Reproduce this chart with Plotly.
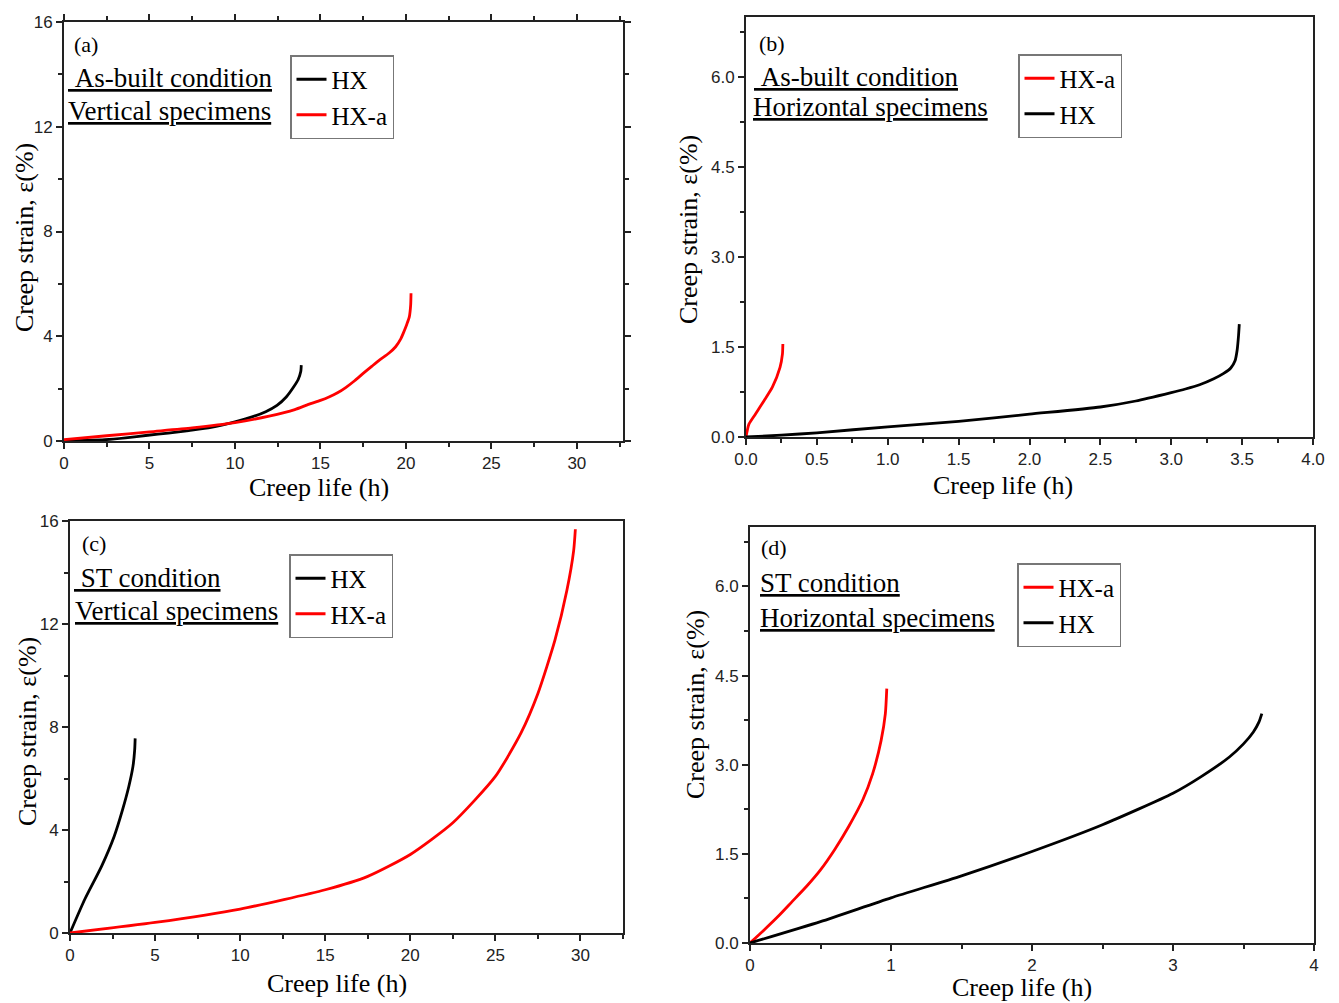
import plotly.graph_objects as go

# ---------------- data ----------------
# (a) As-built, vertical
a_hx_x = [0, 1.2, 2.4, 3.6, 4.9, 6.1, 7.3, 8.6, 10.0, 11.0, 11.8, 12.46, 13.0, 13.44, 13.7, 13.85, 13.88]
a_hx_y = [0, 0.02, 0.05, 0.12, 0.22, 0.3, 0.4, 0.52, 0.73, 0.92, 1.12, 1.36, 1.68, 2.07, 2.35, 2.65, 2.9]
a_hxa_x = [0, 2.5, 5, 7.5, 10, 12, 13.5, 14.3, 15.0, 15.5, 16.0, 16.5, 17.0, 17.5, 18.0, 18.45, 19.0, 19.4, 19.7, 19.9, 20.05, 20.2, 20.28, 20.3]
a_hxa_y = [0.05, 0.2, 0.35, 0.5, 0.7, 0.95, 1.2, 1.4, 1.55, 1.68, 1.84, 2.05, 2.3, 2.58, 2.85, 3.09, 3.35, 3.6, 3.9, 4.2, 4.45, 4.74, 5.2, 5.64]

# (b) As-built, horizontal
b_hxa_x = [0, 0.02, 0.066, 0.126, 0.186, 0.24, 0.257, 0.26]
b_hxa_y = [0, 0.21, 0.38, 0.6, 0.83, 1.16, 1.38, 1.55]
b_hx_x = [0, 0.25, 0.5, 1.0, 1.5, 2.0, 2.5, 2.75, 3.0, 3.1, 3.2, 3.3, 3.37, 3.42, 3.45, 3.465, 3.475, 3.48]
b_hx_y = [0, 0.03, 0.07, 0.17, 0.26, 0.38, 0.5, 0.6, 0.74, 0.8, 0.87, 0.97, 1.06, 1.15, 1.27, 1.45, 1.7, 1.88]

# (c) ST, vertical
c_hx_x = [0, 0.87, 1.86, 2.6, 3.09, 3.46, 3.7, 3.8, 3.83]
c_hx_y = [0, 1.31, 2.6, 3.76, 4.79, 5.7, 6.47, 7.1, 7.56]
c_hxa_x = [0, 5, 10, 15, 17.5, 20, 22.5, 25, 26.5, 27.5, 28.5, 29.2, 29.6, 29.7]
c_hxa_y = [0, 0.41, 0.93, 1.68, 2.2, 3.05, 4.28, 6.08, 7.76, 9.3, 11.37, 13.3, 14.85, 15.68]

# (d) ST, horizontal
d_hxa_x = [0, 0.1, 0.2, 0.3, 0.4, 0.5, 0.6, 0.7, 0.8, 0.87, 0.93, 0.96, 0.97]
d_hxa_y = [0, 0.22, 0.45, 0.7, 0.95, 1.23, 1.57, 1.96, 2.41, 2.85, 3.41, 3.86, 4.28]
d_hx_x = [0, 0.5, 1.0, 1.5, 2.0, 2.5, 3.0, 3.2, 3.4, 3.5, 3.57, 3.61, 3.63]
d_hx_y = [0, 0.36, 0.76, 1.13, 1.54, 1.99, 2.52, 2.8, 3.13, 3.35, 3.55, 3.72, 3.86]

x_title = "Creep life (h)"
y_title = "Creep strain, ε(%)"
panel_labels = ["(a)", "(b)", "(c)", "(d)"]
cond_lines = [
    ["\u00a0As-built condition", "Vertical specimens"],
    ["\u00a0As-built condition", "Horizontal specimens"],
    ["\u00a0ST condition", "Vertical specimens"],
    ["ST condition", "Horizontal specimens"],
]

SERIF = "Liberation Serif"
SANS = "Liberation Sans"
W, H = 1339, 1003

fig = go.Figure()

def add(x, y, color, name, xa, ya, legend):
    fig.add_trace(go.Scatter(x=x, y=y, mode="lines", name=name,
                             line=dict(color=color, width=2.8, shape="spline", smoothing=0.6),
                             xaxis=xa, yaxis=ya, legend=legend))

add(a_hx_x, a_hx_y, "black", "HX", "x", "y", "legend")
add(a_hxa_x, a_hxa_y, "red", "HX-a", "x", "y", "legend")
add(b_hxa_x, b_hxa_y, "red", "HX-a", "x2", "y2", "legend2")
add(b_hx_x, b_hx_y, "black", "HX", "x2", "y2", "legend2")
add(c_hx_x, c_hx_y, "black", "HX", "x3", "y3", "legend3")
add(c_hxa_x, c_hxa_y, "red", "HX-a", "x3", "y3", "legend3")
add(d_hxa_x, d_hxa_y, "red", "HX-a", "x4", "y4", "legend4")
add(d_hx_x, d_hx_y, "black", "HX", "x4", "y4", "legend4")

def px_x(v):
    return v / W

def px_y(v):
    return 1 - v / H

# panel geometry in pixels: left, right, top, bottom
geom = [(64, 623, 22, 441), (746, 1313, 17, 437), (70, 623, 521, 933), (750, 1314, 527, 943)]

tickfont = dict(family=SANS, size=17, color="#222")
titlefont = dict(family=SERIF, size=26, color="black")
minor_style = dict(ticks="outside", ticklen=4, tickwidth=1.5, tickcolor="#222")

def axis_common(mirror):
    return dict(showline=True, linewidth=2, linecolor="#222", mirror=mirror,
                ticks="outside", ticklen=6, tickwidth=1.5, tickcolor="#222",
                showgrid=False, zeroline=False, tickfont=tickfont, fixedrange=True,
                automargin=False)

xcfg = [
    dict(range=[0, 32.7], tick0=0, dtick=5, minor=dict(dtick=2.5, **minor_style)),
    dict(range=[0, 4.0], tick0=0, dtick=0.5, tickformat=".1f", minor=dict(dtick=0.25, **minor_style)),
    dict(range=[0, 32.5], tick0=0, dtick=5, minor=dict(dtick=2.5, **minor_style)),
    dict(range=[0, 4.0], tick0=0, dtick=1, minor=dict(dtick=0.5, **minor_style)),
]
ycfg = [
    dict(range=[0, 16], tick0=0, dtick=4, minor=dict(dtick=2, **minor_style)),
    dict(range=[0, 7.0], tick0=0, dtick=1.5, tickformat=".1f", minor=dict(dtick=0.75, **minor_style)),
    dict(range=[0, 16], tick0=0, dtick=4, minor=dict(dtick=2, **minor_style)),
    dict(range=[0, 7.0], tick0=0, dtick=1.5, tickformat=".1f", minor=dict(dtick=0.75, **minor_style)),
]
mirrors = ["allticks", True, True, True]

layout = {}
for i, (l, r, t, b) in enumerate(geom):
    sfx = "" if i == 0 else str(i + 1)
    xa = axis_common(mirrors[i])
    xa.update(xcfg[i])
    xa.update(domain=[px_x(l), px_x(r)], anchor="y" + sfx)
    ya = axis_common(mirrors[i])
    ya.update(ycfg[i])
    ya.update(domain=[px_y(b), px_y(t)], anchor="x" + sfx)
    layout["xaxis" + sfx] = xa
    layout["yaxis" + sfx] = ya

legend_pos = [(290, 55), (1018, 54), (289, 554), (1017, 563)]
for i, (lx, ly) in enumerate(legend_pos):
    key = "legend" if i == 0 else "legend" + str(i + 1)
    layout[key] = dict(x=px_x(lx), y=px_y(ly), xanchor="left", yanchor="top",
                       bgcolor="white", bordercolor="#777", borderwidth=1.5,
                       font=dict(family=SERIF, size=25, color="black"),
                       tracegroupgap=0, itemwidth=30)

fig.update_layout(**layout)

# axis titles (placed where the reference puts them, which is not always centred)
x_title_pos = [(319, 488), (1003, 485), (337, 983), (1022, 987)]
y_title_pos = [(24, 238), (688, 230), (27, 732), (695, 705)]
for i in range(4):
    tx, ty = x_title_pos[i]
    fig.add_annotation(text=x_title, x=px_x(tx), y=px_y(ty), xref="paper", yref="paper",
                       xanchor="center", yanchor="middle", showarrow=False, font=titlefont,
                       borderpad=0)
    tx, ty = y_title_pos[i]
    fig.add_annotation(text=y_title, x=px_x(tx), y=px_y(ty), xref="paper", yref="paper",
                       xanchor="center", yanchor="middle", showarrow=False, textangle=-90,
                       font=titlefont, borderpad=0)

# panel labels and condition texts
label_pos = [(72, 44), (757, 43), (80, 543), (759, 547)]
cond_pos = [((66, 78), (66, 111)), ((752, 77), (751, 107)), ((72, 578), (73, 611)), ((758, 583), (758, 618))]
for i in range(4):
    lx, ly = label_pos[i]
    fig.add_annotation(text=panel_labels[i], x=px_x(lx), y=px_y(ly), xref="paper", yref="paper",
                       xanchor="left", yanchor="middle", showarrow=False,
                       font=dict(family=SERIF, size=22, color="black"))
    for j in range(2):
        cx, cy = cond_pos[i][j]
        fig.add_annotation(text="<u>" + cond_lines[i][j] + "</u>", x=px_x(cx), y=px_y(cy),
                           xref="paper", yref="paper", xanchor="left", yanchor="middle",
                           showarrow=False, font=dict(family=SERIF, size=27, color="black"))

fig.update_layout(width=W, height=H, margin=dict(l=0, r=0, t=0, b=0),
                  paper_bgcolor="white", plot_bgcolor="white")

fig.write_html("out.html")
